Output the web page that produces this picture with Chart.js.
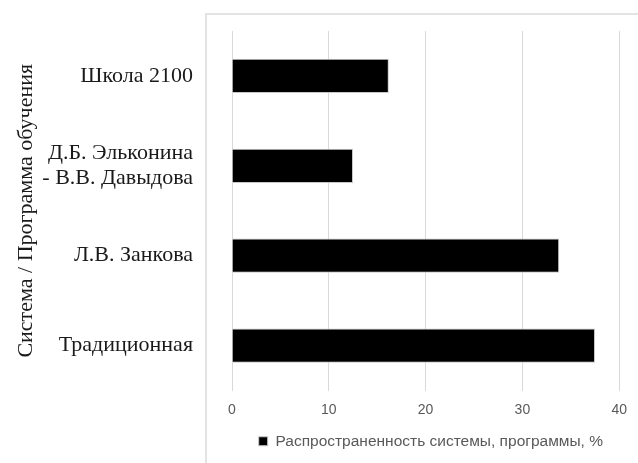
<!DOCTYPE html>
<html>
<head>
<meta charset="utf-8">
<script src="https://cdn.jsdelivr.net/npm/chart.js@4"></script>
<style>
  html, body { margin: 0; padding: 0; background: #fff; }
  #wrap { position: relative; width: 638px; height: 463px; }
  #frame { position: absolute; left: 205px; top: 13px; width: 440px; height: 460px;
           border-left: 2px solid #e3e3e3; border-top: 2px solid #e3e3e3; }
  canvas { position: absolute; left: 0; top: 0; }
</style>
</head>
<body>
<div id="wrap">
  <div id="frame"></div>
  <canvas id="chart" width="638" height="463"></canvas>
</div>
<script>
// данные
const categories = ['Школа 2100', ['Д.Б. Эльконина', '- В.В. Давыдова'], 'Л.В. Занкова', 'Традиционная'];
const values = [16.2, 12.5, 33.8, 37.5];
const xTicks = [0, 10, 20, 30, 40];
const seriesLabel = 'Распространенность системы, программы, %';
const axisTitle = 'Система / Программа обучения';

const sansFont = "'Liberation Sans', Arial, sans-serif";
const serifFont = "'Liberation Serif', 'Times New Roman', serif";

new Chart(document.getElementById('chart'), {
    type: 'bar',
    data: {
        labels: categories,
        datasets: [{
            label: seriesLabel,
            data: values,
            backgroundColor: '#000000',
            borderColor: '#c8c8c8',
            borderWidth: 1,
            barPercentage: 0.38,
            categoryPercentage: 1
        }]
    },
    options: {
        indexAxis: 'y',
        responsive: false,
        animation: false,
        layout: { padding: { left: 10, top: 31, right: 17, bottom: 4 } },
        scales: {
            x: {
                min: xTicks[0],
                max: xTicks[xTicks.length - 1],
                afterBuildTicks: (s) => { s.ticks = xTicks.map(v => ({ value: v })); },
                grid: { color: '#d9d9d9', lineWidth: 1, drawTicks: false },
                border: { display: false },
                ticks: { color: '#595959', font: { family: sansFont, size: 14 }, padding: 11 },
                afterFit: (s) => { s.height = 25; }
            },
            y: {
                // тики не рисуются, но tickLength отодвигает подписи от оси
                grid: { display: false, drawTicks: true, tickLength: 37 },
                border: { display: true, color: '#d9d9d9', width: 1 },
                ticks: { color: '#1a1a1a', font: { family: serifFont, size: 22, lineHeight: 1.15 }, padding: 2 },
                title: {
                    display: true,
                    text: axisTitle,
                    color: '#1a1a1a',
                    font: { family: serifFont, size: 22 },
                    padding: { top: 3, bottom: 0 }
                },
                afterFit: (s) => { s.width = 222; }
            }
        },
        plugins: {
            legend: {
                position: 'bottom',
                align: 'end',
                labels: {
                    color: '#595959',
                    font: { family: sansFont, size: 15.5 },
                    boxWidth: 9,
                    boxHeight: 9,
                    padding: 18
                }
            },
            tooltip: { enabled: false }
        }
    }
});
</script>
</body>
</html>
